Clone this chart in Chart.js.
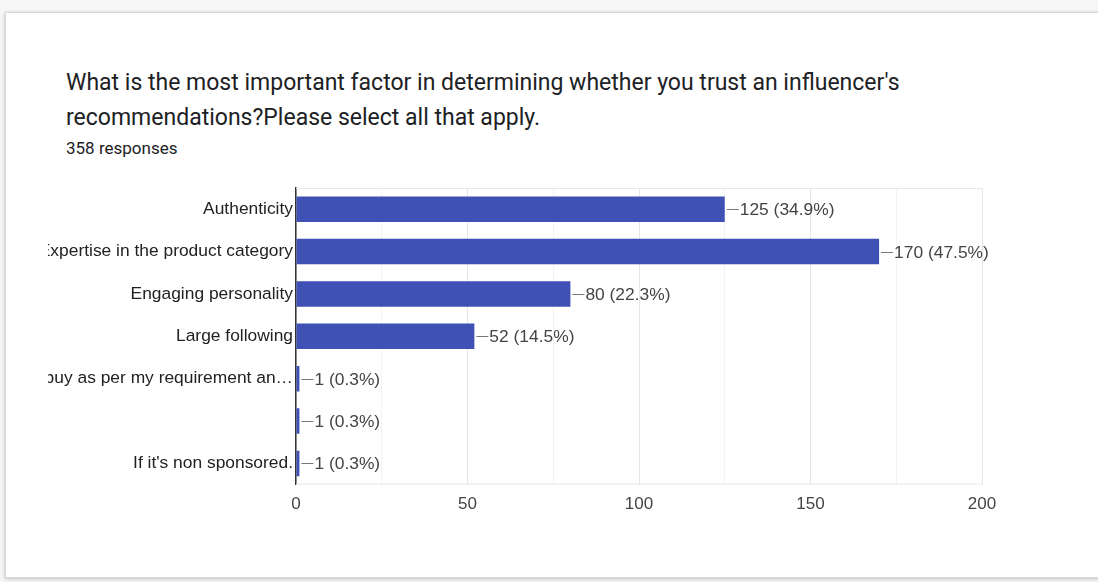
<!DOCTYPE html>
<html>
<head>
<meta charset="utf-8">
<script src="https://cdn.jsdelivr.net/npm/chart.js@4/dist/chart.umd.min.js"></script>
<style>
  html, body { margin: 0; padding: 0; }
  body { width: 1098px; height: 582px; background: #f6f6f6; position: relative; overflow: hidden; font-family: Roboto, Arial, sans-serif; }
  .card { position: absolute; left: 5px; top: 12px; width: 1110px; height: 566px; background: #fff;
          border: 1px solid #d6d6d6; box-shadow: 0 1px 4px rgba(0,0,0,0.22); box-sizing: border-box; }
  .title { position: absolute; left: 66px; top: 65px; font-size: 23px; line-height: 35px; color: #202124; white-space: nowrap; }
  .sub { position: absolute; left: 66px; top: 138px; font-size: 17px; line-height: 20px; color: #202124; white-space: nowrap; }
  .plot { position: absolute; left: 48px; top: 170px; width: 970px; height: 364px; }
</style>
</head>
<body>
<div class="card"></div>
<div class="title">What is the most important factor in determining whether you trust an influencer's<br>recommendations?Please select all that apply.</div>
<div class="sub">358 responses</div>
<div class="plot"><canvas id="chart"></canvas></div>
<script>
// Answer options and how many respondents picked each one
const categories = [
  "Authenticity",
  "Expertise in the product category",
  "Engaging personality",
  "Large following",
  "I buy as per my requirement an\u2026",
  "",
  "If it's non sponsored."
];
const counts = [125, 170, 80, 52, 1, 1, 1];
const totalResponses = 358;
const xTickLabels = [0, 50, 100, 150, 200];

const FONT_FAMILY = '"Liberation Sans", Arial, sans-serif';
const LABEL_FONT = '17.4px ' + FONT_FAMILY;

// Top/bottom frame lines of the plot area
const framePlugin = {
  id: 'frame',
  beforeDatasetsDraw(chart) {
    const { ctx, chartArea: a } = chart;
    ctx.save();
    ctx.strokeStyle = '#e8e8e8';
    ctx.lineWidth = 1;
    ctx.beginPath();
    ctx.moveTo(a.left, a.top + 0.5); ctx.lineTo(a.right, a.top + 0.5);
    ctx.moveTo(a.left, a.bottom - 0.5); ctx.lineTo(a.right, a.bottom - 0.5);
    ctx.stroke();
    ctx.restore();
  }
};

// Count and share printed after each bar, joined by a short leader line
const valueLabelPlugin = {
  id: 'valueLabels',
  afterDatasetsDraw(chart) {
    const { ctx } = chart;
    const meta = chart.getDatasetMeta(0);
    ctx.save();
    ctx.font = LABEL_FONT;
    ctx.textBaseline = 'middle';
    ctx.textAlign = 'left';
    meta.data.forEach((bar, i) => {
      const v = counts[i];
      const pct = (v / totalResponses * 100).toFixed(1);
      const x = bar.x, y = Math.round(bar.y) + 0.5;
      ctx.strokeStyle = '#777';
      ctx.lineWidth = 1;
      ctx.beginPath();
      ctx.moveTo(x + 2, y); ctx.lineTo(x + 14, y);
      ctx.stroke();
      ctx.fillStyle = '#444';
      ctx.fillText(`${v} (${pct}%)`, x + 15, y + 1);
    });
    ctx.restore();
  }
};

new Chart(document.getElementById('chart'), {
  type: 'bar',
  data: {
    labels: categories,
    datasets: [{
      data: counts,
      backgroundColor: '#3f51b5',
      borderWidth: 0,
      categoryPercentage: 0.6,
      barPercentage: 1.0
    }]
  },
  options: {
    indexAxis: 'y',
    responsive: true,
    maintainAspectRatio: false,
    animation: false,
    layout: { padding: { top: 18, right: 36, bottom: 9, left: 0 } },
    plugins: { legend: { display: false }, tooltip: { enabled: false } },
    scales: {
      x: {
        min: 0, max: 200,
        ticks: {
          stepSize: 25,
          autoSkip: false,
          maxRotation: 0,
          padding: 10,
          color: '#444',
          font: { family: FONT_FAMILY, size: 17 },
          callback: v => xTickLabels.includes(v) ? String(v) : ''
        },
        grid: {
          drawTicks: false,
          color: c => (c.tick && c.tick.value % 50 === 0) ? '#e6e6e6' : '#f3f3f3'
        },
        border: { display: false }
      },
      y: {
        afterFit(scale) { scale.width = 248; },
        ticks: {
          padding: 3,
          color: '#222',
          font: { family: FONT_FAMILY, size: 17.4 },
          autoSkip: false
        },
        grid: { display: false, drawTicks: false },
        border: { display: true, color: '#333', width: 1.5 }
      }
    }
  },
  plugins: [framePlugin, valueLabelPlugin]
});
</script>
</body>
</html>
